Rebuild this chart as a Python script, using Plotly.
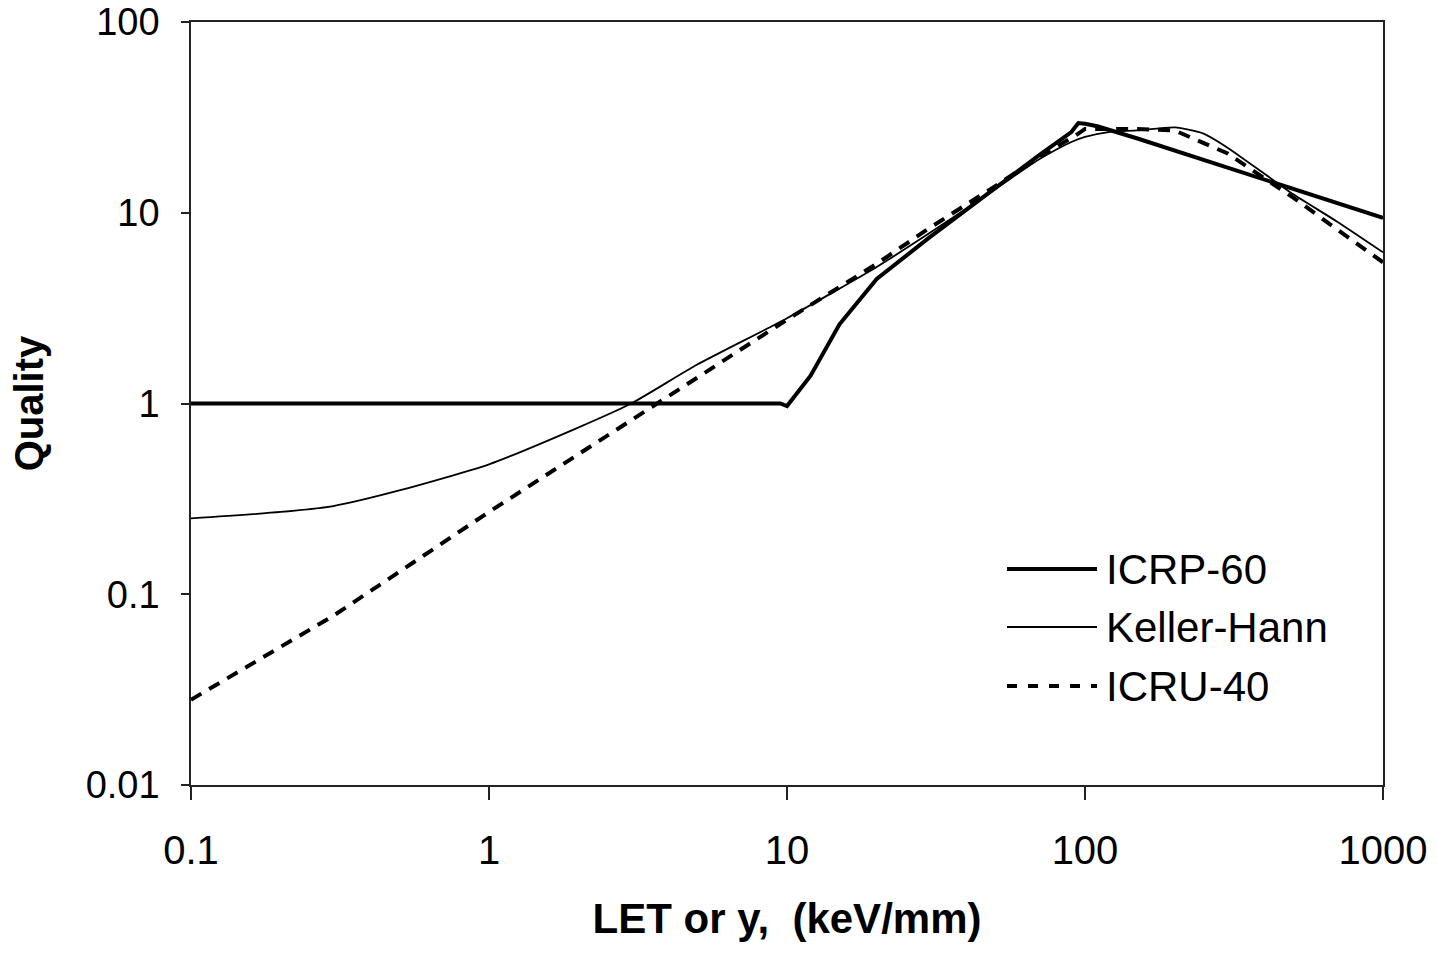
import plotly.graph_objects as go

# ICRP-60
icrp_x = [0.1, 1, 5, 9.5, 10, 12, 15, 20, 30, 40, 50, 70, 90, 95, 100, 110, 150, 200, 300, 500, 700, 1000]
icrp_y = [1.0, 1.0, 1.0, 1.0, 0.97, 1.4, 2.6, 4.5, 7.4, 10.4, 13.6, 20.0, 26.5, 29.5, 29.3, 28.4, 24.5, 21.2, 17.3, 13.4, 11.3, 9.4]

# Keller-Hann
kh_x = [0.1, 0.2, 0.3, 0.5, 1, 2, 3, 5, 10, 20, 30, 50, 70, 90, 100, 120, 150, 200, 250, 300, 400, 500, 700, 1000]
kh_y = [0.25, 0.27, 0.29, 0.35, 0.48, 0.75, 1.0, 1.6, 2.8, 5.2, 7.8, 13.3, 19.0, 23.5, 25.0, 26.5, 27.0, 28.0, 26.0, 22.0, 16.0, 12.5, 9.0, 6.2]

# ICRU-40
icru_x = [0.1, 0.3, 1, 3, 10, 20, 30, 50, 70, 95, 100, 150, 200, 300, 500, 700, 1000]
icru_y = [0.028, 0.077, 0.27, 0.82, 2.75, 5.4, 8.3, 13.8, 19.5, 26.0, 27.5, 27.5, 27.0, 20.5, 12.0, 8.2, 5.5]

x_ticks = [0.1, 1, 10, 100, 1000]
x_tick_text = ["0.1", "1", "10", "100", "1000"]
y_ticks = [0.01, 0.1, 1, 10, 100]
y_tick_text = ["0.01", "0.1", "1", "10", "100"]

legend_names = ["ICRP-60", "Keller-Hann", "ICRU-40"]

FONT = "Liberation Sans, Arial, sans-serif"

fig = go.Figure()
fig.add_trace(go.Scatter(x=icrp_x, y=icrp_y, mode="lines", name=legend_names[0],
                         line=dict(color="black", width=4)))
fig.add_trace(go.Scatter(x=kh_x, y=kh_y, mode="lines", name=legend_names[1],
                         line=dict(color="black", width=1.8, shape="spline", smoothing=0.6)))
fig.add_trace(go.Scatter(x=icru_x, y=icru_y, mode="lines", name=legend_names[2],
                         line=dict(color="black", width=4, dash="12px,9px")))

W, H = 1437, 953
L, R, T, B = 191, 1383, 22, 785  # target plot-area pixels in the screenshot

def px(x):
    return (x - L) / (R - L)

def py(y):
    return (B - y) / (B - T)

# custom legend
leg = [(569, dict(color="black", width=4)),
       (627, dict(color="black", width=1.8)),
       (686, dict(color="black", width=4, dash="10px,11px"))]
for (yy, ln), name in zip(leg, legend_names):
    fig.add_shape(type="line", xref="paper", yref="paper",
                  x0=px(1007), x1=px(1097), y0=py(yy), y1=py(yy), line=ln)
    fig.add_annotation(xref="paper", yref="paper", x=px(1104), y=py(yy),
                       text=name, showarrow=False, xanchor="left", yanchor="middle",
                       font=dict(family=FONT, size=42, color="black"))

fig.update_layout(
    width=W, height=H,
    margin=dict(l=L, r=W - R, t=T, b=H - B),
    paper_bgcolor="white", plot_bgcolor="white",
    showlegend=False,
    font=dict(family=FONT, color="black"),
)
fig.update_xaxes(type="log", range=[-1, 3], tickvals=x_ticks, ticktext=x_tick_text,
                 ticks="outside", ticklen=13, tickwidth=1.5, tickcolor="#222",
                 showline=True, linecolor="#222", linewidth=1.5, mirror=True,
                 showgrid=False, zeroline=False, automargin=False,
                 ticklabeloverflow="allow",
                 tickfont=dict(family=FONT, size=40, color="black"),
                 ticklabelstandoff=16,
                 title=dict(text="<b>LET or y,  (keV/mm)</b>", standoff=33,
                            font=dict(family=FONT, size=42, color="black")))
fig.update_yaxes(type="log", range=[-2, 2], tickvals=y_ticks, ticktext=y_tick_text,
                 ticks="outside", ticklen=8, tickwidth=1.5, tickcolor="#222",
                 showline=True, linecolor="#222", linewidth=1.5, mirror=True,
                 showgrid=False, zeroline=False, automargin=False,
                 ticklabeloverflow="allow",
                 tickfont=dict(family=FONT, size=38, color="black"),
                 ticklabelstandoff=14,
                 title=dict(text="<b>Quality</b>", standoff=30,
                            font=dict(family=FONT, size=40, color="black")))

fig.write_html("out.html", config={"displayModeBar": False},
               post_script="document.body.style.margin='0';document.body.style.overflow='hidden';")
